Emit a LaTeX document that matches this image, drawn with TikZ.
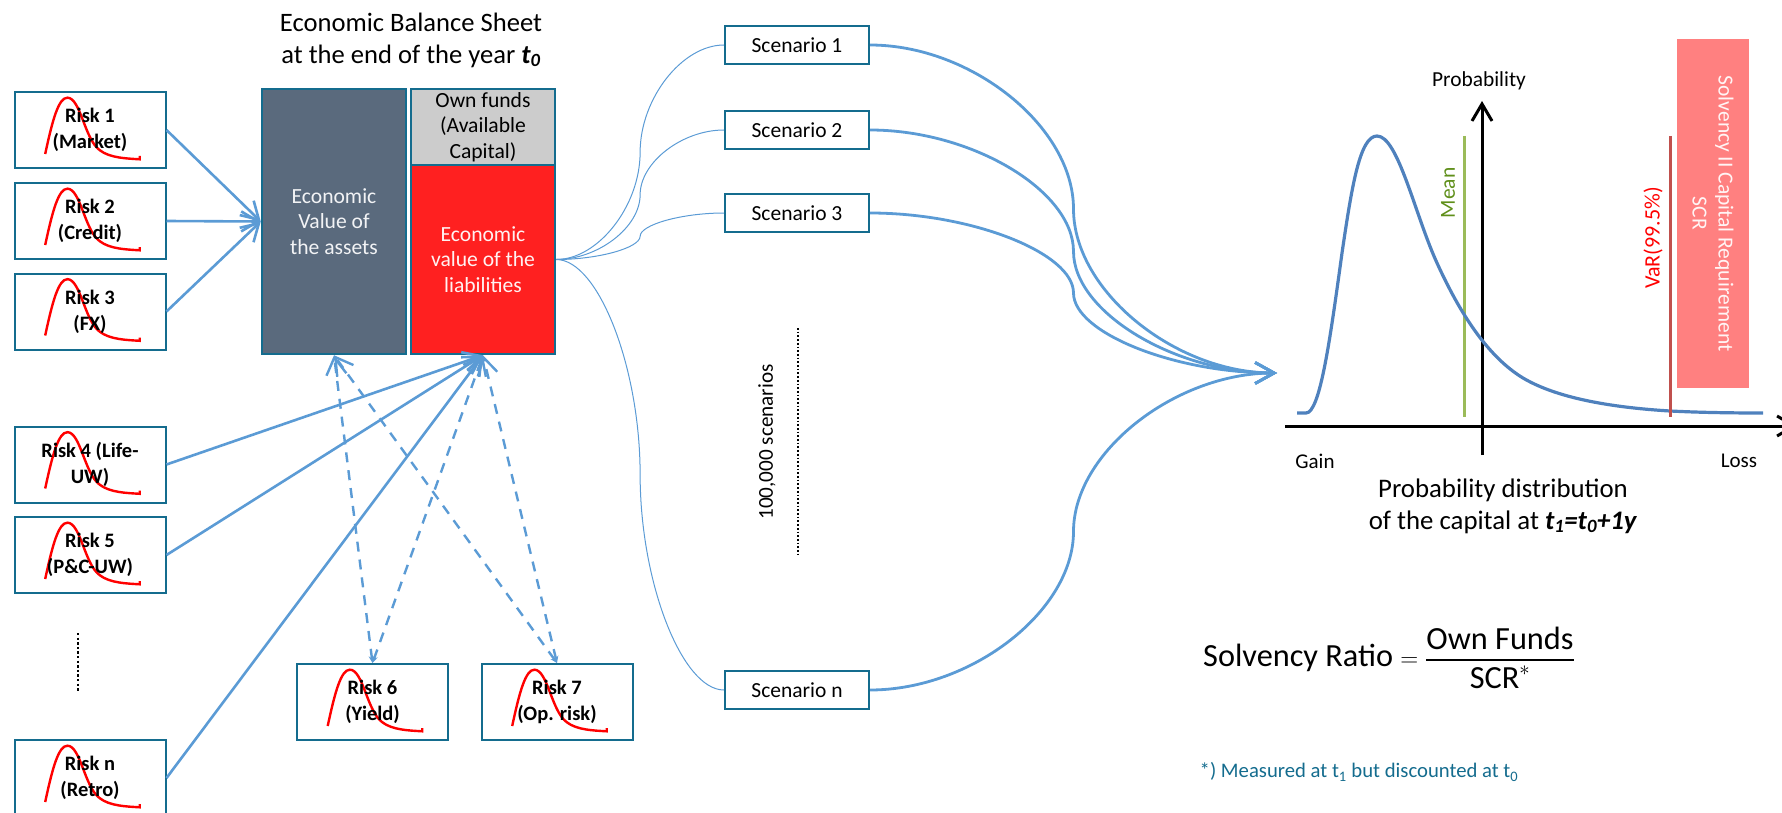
\documentclass[tikz,border=0pt]{standalone}
\usepackage{fontspec}
\setmainfont{Carlito}
\usetikzlibrary{arrows.meta,calc}
\definecolor{tealb}{HTML}{146C8E}
\definecolor{lineb}{HTML}{5B9BD5}
\definecolor{curveb}{HTML}{4F81BD}
\definecolor{slate}{HTML}{5A6A7D}
\definecolor{liabred}{HTML}{FF2020}
\definecolor{ownfill}{HTML}{CCCCCC}
\definecolor{pinkbox}{HTML}{FF8080}
\definecolor{meanline}{HTML}{9BBB59}
\definecolor{meantext}{HTML}{5F8F1A}
\definecolor{varline}{HTML}{C0504D}
\newcommand{\fs}[2]{\fontsize{#1pt}{#2pt}\selectfont}
% PowerPoint-style curved connector, from #2 to #3
\newcommand{\curveconn}[3]{\draw[#1] let \p1=(#2),\p2=(#3),\n1={(\x1+\x2)/2},\n2={(\y1+\y2)/2} in
  (\p1) .. controls ({(\x1+\n1)/2},\y1) and (\n1,{\y1+(\y2-\y1)/4}) .. (\n1,\n2)
  .. controls (\n1,{\y1+3*(\y2-\y1)/4}) and ({(\n1+\x2)/2},\y2) .. (\p2);}
\tikzset{
  riskbox/.style={draw=tealb,line width=2pt,fill=white,minimum width=151pt,minimum height=76pt,inner sep=0pt,
    align=center,font=\fs{20.5}{26}\bfseries,
    path picture={
      \coordinate (pb) at (path picture bounding box.center);
      \draw[red,line width=2.4pt] ([shift={(-44.8,24)}]pb)
        .. controls ([shift={(-37.5,-10)}]pb) and ([shift={(-31.5,-32.3)}]pb) .. ([shift={(-22.6,-32.3)}]pb)
        .. controls ([shift={(-9.5,-32.3)}]pb) and ([shift={(-5.5,9)}]pb) .. ([shift={(9.5,20)}]pb)
        .. controls ([shift={(19.5,28)}]pb) and ([shift={(36.5,28.5)}]pb) .. ([shift={(49.7,29.3)}]pb)
        -- ([shift={(49.7,26)}]pb);
    }},
  sbox/.style={draw=tealb,line width=2pt,fill=white,minimum width=144pt,minimum height=38pt,inner sep=0pt,font=\fs{21.5}{25}},
  block/.style={draw=tealb,line width=2.5pt,minimum width=144pt,inner sep=0pt,align=center,font=\fs{21.6}{25.5}},
  solid arrow/.style={lineb,line width=2.6pt,-{Straight Barb[length=17pt,width=20pt]}},
  dash arrow/.style={lineb,line width=2.4pt,dash pattern=on 10pt off 8pt,
    {Stealth[length=7pt,width=6pt]}-{Straight Barb[length=17pt,width=20pt]}},
  thin curve/.style={lineb,line width=1pt},
  thick curve/.style={lineb,line width=2.8pt,-{Straight Barb[length=19pt,width=21pt]}},
  lbl/.style={inner sep=0pt,align=center},
}
\begin{document}
\begin{tikzpicture}[x=1pt,y=-1pt]
\useasboundingbox (0,0) rectangle (1782,813);
\clip (0,0) rectangle (1782,813);
% title
\node[lbl,font=\fs{26.6}{32}] (title) at (411,40) {Economic Balance Sheet\\at the end of the year \textbf{\textit{t\textsubscript{0}}}};
% balance sheet
\node[block,fill=slate,text=white!92!slate,minimum height=265pt] (assets) at (334,221.5) {Economic\\Value of\\the assets};
\node[block,fill=ownfill,minimum height=76pt] (own) at (483,127) {Own funds\\(Available\\Capital)};
\node[block,fill=liabred,text=white!95!red,minimum height=189pt] (liab) at (483,259.5) {Economic\\value of the\\liabilities};
% risks
\node[riskbox] (r1) at (90,130) {Risk 1\\(Market)};
\node[riskbox] (r2) at (90,221) {Risk 2\\(Credit)};
\node[riskbox] (r3) at (90,311.5) {Risk 3\\(FX)};
\node[riskbox] (r4) at (90,464.5) {Risk 4 (Life-\\UW)};
\node[riskbox] (r5) at (90,555) {Risk 5\\(P\&C-UW)};
\node[riskbox] (rn) at (90,778) {Risk n\\(Retro)};
\node[riskbox] (r6) at (372.5,702) {Risk 6\\(Yield)};
\node[riskbox] (r7) at (557,702) {Risk 7\\(Op. risk)};
\coordinate (da) at (78,633);
\coordinate (db) at (78,692);
\draw[black,line width=2.6pt,dash pattern=on 2.4pt off 2.2pt] (da) -- (db);
% scenarios
\node[sbox] (s1) at (797,45) {Scenario 1};
\node[sbox] (s2) at (797,130) {Scenario 2};
\node[sbox] (s3) at (797,213) {Scenario 3};
\node[sbox] (sn) at (797,690) {Scenario n};
\node[lbl,rotate=90,font=\fs{21.2}{25}] (hund) at (767,442) {100,000 scenarios};
\coordinate (dc) at (798,328);
\coordinate (dd) at (798,555);
\draw[black,line width=1.7pt,dash pattern=on 1.7pt off 2pt] (dc) -- (dd);
% risk connectors
\draw[solid arrow] (r1.east) -- (assets.west);
\draw[solid arrow] (r2.east) -- (assets.west);
\draw[solid arrow] (r3.east) -- (assets.west);
\draw[solid arrow] (r4.east) -- (liab.south);
\draw[solid arrow] (r5.east) -- (liab.south);
\draw[solid arrow] (rn.east) -- (liab.south);
\draw[dash arrow] (r6.north) -- (assets.south);
\draw[dash arrow] (r6.north) -- (liab.south);
\draw[dash arrow] (r7.north) -- (assets.south);
\draw[dash arrow] (r7.north) -- (liab.south);
% scenario connectors
\curveconn{thin curve}{liab.east}{s1.west}
\curveconn{thin curve}{liab.east}{s2.west}
\curveconn{thin curve}{liab.east}{s3.west}
\curveconn{thin curve}{liab.east}{sn.west}
\coordinate (conv) at (1277,373);
\curveconn{thick curve}{s1.east}{conv}
\curveconn{thick curve}{s2.east}{conv}
\curveconn{thick curve}{s3.east}{conv}
\curveconn{thick curve}{sn.east}{conv}
% chart
\node[fill=pinkbox,rotate=-90,minimum width=349pt,minimum height=72pt,inner sep=0pt,align=center,text=white!92!pinkbox,font=\fs{21.5}{26}] (scr) at (1713,213.5) {Solvency II Capital Requirement\\SCR};
\coordinate (ax0) at (1285,426);
\coordinate (ax1) at (1797,426);
\coordinate (ay0) at (1482,455);
\coordinate (ay1) at (1482,101);
\draw[black,line width=3pt,-{Straight Barb[length=17pt,width=20pt]}] (ax0) -- (ax1);
\draw[black,line width=3pt,-{Straight Barb[length=17pt,width=20pt]}] (ay0) -- (ay1);
\coordinate (ma) at (1464,136);
\coordinate (mb) at (1464,417);
\coordinate (va) at (1670,136);
\coordinate (vb) at (1670,417);
\draw[meanline,line width=3pt] (ma) -- (mb);
\draw[curveb,line width=3.2pt] (1297,413) -- (1306,413) .. controls (1320,413) and (1330,340) .. (1342,253)
  .. controls (1352,185) and (1360,136) .. (1377,136)
  .. controls (1398,136) and (1415,215) .. (1437,263)
  .. controls (1462,318) and (1490,358) .. (1523,378)
  .. controls (1560,400) and (1620,408) .. (1670,411)
  .. controls (1700,412.5) and (1730,413) .. (1763,413);
\draw[varline,line width=3pt] (va) -- (vb);
\node[lbl,font=\fs{21.4}{25}] (prob) at (1479,81) {Probability};
\node[lbl,rotate=90,text=meantext,font=\fs{21.5}{25}] (mean) at (1448,193) {Mean};
\node[lbl,rotate=90,text=red,font=\fs{22}{25}] (var) at (1653,238) {VaR(99.5\%)};
\node[lbl,font=\fs{21}{25}] (gain) at (1315,461) {Gain};
\node[lbl,font=\fs{21}{25}] (loss) at (1739,461) {Loss};
\node[lbl,font=\fs{26.8}{32}] (pd) at (1503,506) {Probability distribution\\of the capital at \textbf{\textit{t\textsubscript{1}=t\textsubscript{0}+1y}}};
% ratio
\node[lbl,font=\fs{32.3}{38}] (ratio) at (1389,658) {Solvency Ratio $=\displaystyle{\mbox{Own Funds}\above 1.8pt\mbox{SCR}^{*}}$};
\node[lbl,text=tealb,font=\fs{20.7}{24}] (note) at (1359,772) {*) Measured at t\textsubscript{1} but discounted at t\textsubscript{0}};
\end{tikzpicture}
\end{document}
